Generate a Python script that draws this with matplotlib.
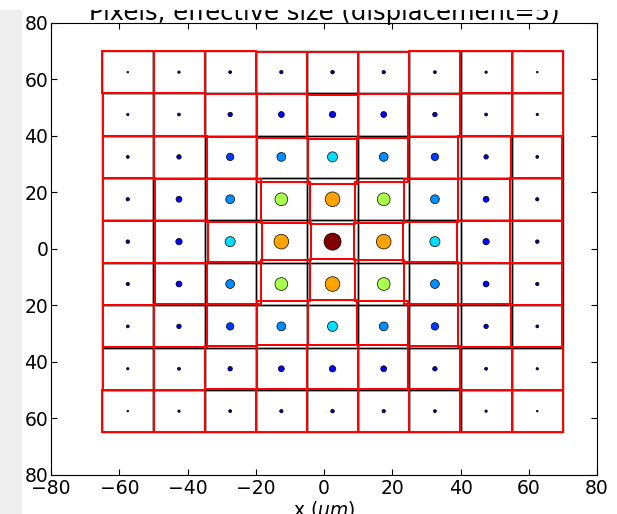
import numpy as np
import matplotlib.pyplot as plt
from matplotlib.patches import Rectangle

pitch = 15.0
centres = [-57.5, -42.5, -27.5, -12.5, 2.5, 17.5, 32.5, 47.5, 62.5]
displacement = 5
tick_vals = [-80, -60, -40, -20, 0, 20, 40, 60, 80]
ytick_labels = ['80', '60', '40', '20', '0', '20', '40', '60', '80']

# charge collected in each pixel, row 0 is the top row, peak = 1
charge = [
    [0.010, 0.020, 0.030, 0.040, 0.045, 0.040, 0.030, 0.020, 0.010],
    [0.020, 0.030, 0.070, 0.120, 0.140, 0.120, 0.070, 0.030, 0.020],
    [0.030, 0.070, 0.190, 0.270, 0.350, 0.270, 0.190, 0.070, 0.030],
    [0.040, 0.120, 0.270, 0.560, 0.740, 0.560, 0.270, 0.120, 0.040],
    [0.045, 0.140, 0.350, 0.740, 1.000, 0.740, 0.350, 0.140, 0.045],
    [0.040, 0.120, 0.270, 0.560, 0.740, 0.560, 0.270, 0.120, 0.040],
    [0.030, 0.070, 0.190, 0.270, 0.350, 0.270, 0.190, 0.070, 0.030],
    [0.020, 0.030, 0.070, 0.120, 0.140, 0.120, 0.070, 0.030, 0.020],
    [0.010, 0.020, 0.030, 0.040, 0.045, 0.040, 0.030, 0.020, 0.010],
]

q = np.array(charge)[::-1]          # row index now increases with y
n = len(centres)
edges = centres[0] - pitch/2 + pitch*np.arange(n + 1)
qp = np.pad(q, 1)                   # nothing collected outside the grid

# boundaries move towards the pixel holding more charge
xb = edges[None, :] + displacement*(qp[1:-1, 1:] - qp[1:-1, :-1])
yb = edges[None, :] + displacement*(qp[1:, 1:-1] - qp[:-1, 1:-1]).T

fig = plt.figure(figsize=(6.17, 5.14), dpi=100)
ax = fig.add_axes([51/617, 1 - 474.7/514, 546/617, 452/514])

for r in range(n):
    for c in range(n):
        ax.add_patch(Rectangle((centres[c] - pitch/2, centres[r] - pitch/2), pitch, pitch,
                               fill=False, ec='black', lw=1.0, zorder=1))
for r in range(n):
    for c in range(n):
        x0, x1 = xb[r, c], xb[r, c + 1]
        y0, y1 = yb[c, r], yb[c, r + 1]
        ax.add_patch(Rectangle((x0, y0), x1 - x0, y1 - y0,
                               fill=False, ec='red', lw=1.4, zorder=2))

X, Y = np.meshgrid(centres, centres)
ax.scatter(X.flatten(), Y.flatten(), s=150*q.flatten(), c=q.flatten(), cmap='jet',
           edgecolors='black', linewidths=0.5, zorder=3)

ax.set_xlim(-80, 80)
ax.set_ylim(-80, 80)
ax.set_xticks(tick_vals)
ax.set_yticks(tick_vals)
ax.set_yticklabels(ytick_labels[::-1])
ax.tick_params(direction='in', top=True, right=True, length=4, labelsize=13.5)
ax.tick_params(axis='y', pad=2)
ax.tick_params(axis='x', pad=3)
ax.set_xlabel(r'x ($\mu m$)', fontsize=13.5, labelpad=1)
ax.set_title('Pixels, effective size (displacement=5)', fontsize=17.5, pad=2)

# top strip of the original is cut off, left edge is a grey backdrop
fig.patches.append(Rectangle((0, 1 - 10/514), 1, 10/514, transform=fig.transFigure,
                             fc='white', ec='none', zorder=5))
fig.patches.append(Rectangle((0, 0), 22/617, 1, transform=fig.transFigure,
                             fc='#eeeeee', ec='none', zorder=-1))

fig.savefig('out.png', dpi=100)
